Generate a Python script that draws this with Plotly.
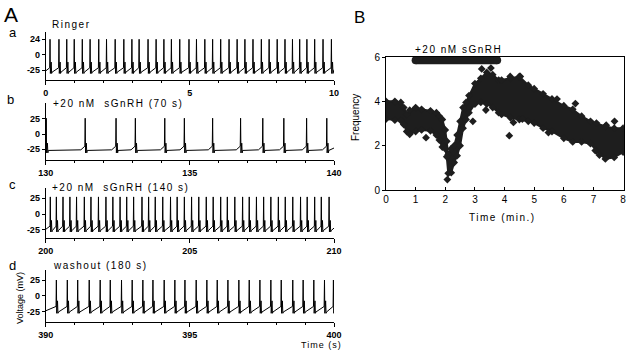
import plotly.graph_objects as go

W, H = 633, 355

# ---------------- data ----------------
# Panel A: spike times (s) read from the recordings
a_spikes = [0.15, 0.46, 0.73, 0.99, 1.27, 1.54, 1.84, 2.11, 2.41, 2.71, 2.99, 3.24,
            3.55, 3.83, 4.10, 4.36, 4.65, 4.97, 5.23, 5.52, 5.79, 6.07, 6.36, 6.64,
            6.91, 7.19, 7.48, 7.75, 8.03, 8.30, 8.56, 8.81, 9.06, 9.33, 9.62, 9.91]
b_spikes = [130.02, 131.37, 132.44, 133.11, 134.13, 134.81, 135.79, 136.76, 137.53,
            138.26, 139.05, 139.75]
c_spikes = [200.16, 200.37, 200.60, 200.84, 201.07, 201.34, 201.57, 201.83, 202.09,
            202.33, 202.58, 202.81, 203.05, 203.34, 203.57, 203.80, 204.06, 204.33,
            204.56, 204.81, 205.06, 205.31, 205.57, 205.81, 206.07, 206.30, 206.56,
            206.83, 207.06, 207.31, 207.56, 207.81, 208.07, 208.31, 208.57, 208.84,
            209.07, 209.33, 209.56, 209.83]
d_spikes = [390.37, 390.75, 391.11, 391.51, 391.89, 392.24, 392.63, 393.00, 393.37,
            393.72, 394.11, 394.48, 394.83, 395.22, 395.59, 395.95, 396.32, 396.70,
            397.06, 397.43, 397.81, 398.17, 398.57, 398.93, 399.30, 399.67, 399.98]

# membrane levels (mV): peak, secondary, trough, rest, pre-spike
a_levels = [24, -12, -30, -28, -21]
b_levels = [26, -15, -31, -27, -20]
c_levels = [27, -10, -28, -26, -19]
d_levels = [25.5, -8, -28, -26, -17]

a_titles = ["Ringer", "+20 nM  sGnRH (70 s)", "+20 nM  sGnRH (140 s)", "washout (180 s)"]
a_xticks = [[0, 5, 10], [130, 135, 140], [200, 205, 210], [390, 395, 400]]
a_ylabels = [["-25", "0", "24"], ["-25", "0", "25"], ["-25", "0", "25"], ["-25", "0", "25"]]
a_yvals = [[-25, 0, 24], [-25, 0, 25], [-25, 0, 25], [-25, 0, 25]]

# Panel B: spike frequency vs time (min): band of the dense point cloud
t_b = [0, 0.3, 0.5, 0.6, 0.7, 0.8, 1.0, 1.2, 1.5, 1.7, 1.8, 1.9, 2.0, 2.05, 2.1, 2.2,
       2.3, 2.4, 2.5, 2.6, 2.7, 2.8, 3.0, 3.2, 3.4, 3.6, 3.8, 3.9, 4.2, 4.5, 4.8, 5.0,
       5.3, 5.6, 6.0, 6.3, 6.6, 6.9, 7.1, 7.4, 7.7, 8.0]
f_upper = [4.0, 4.0, 3.95, 3.72, 3.41, 3.6, 3.72, 3.64, 3.57, 3.49, 3.33, 3.18, 2.71,
           2.2, 1.6, 1.86, 2.0, 2.48, 3.1, 3.72, 3.95, 4.26, 4.8, 5.04, 5.3, 5.2, 4.96,
           4.96, 5.04, 5.12, 4.73, 4.57, 4.34, 4.11, 3.8, 3.64, 3.33, 3.1, 3.02, 2.87,
           2.79, 2.79]
f_lower = [3.2, 3.15, 3.13, 2.95, 2.64, 2.51, 2.64, 2.71, 2.67, 2.48, 2.25, 1.94, 1.86,
           1.5, 0.75, 0.78, 1.24, 1.55, 2.0, 2.79, 3.18, 3.49, 3.88, 3.95, 3.88, 3.72,
           3.49, 3.41, 3.26, 3.18, 3.1, 3.02, 2.79, 2.64, 2.33, 2.17, 2.17, 2.09, 1.78,
           1.4, 1.47, 1.71]
t_out = [1.35, 2.07, 2.93, 3.23, 3.37, 3.54, 4.16, 4.19, 4.3, 4.53, 4.6, 5.48, 5.77,
         6.39, 7.06, 7.2, 7.43, 7.71]
f_out = [2.36, 0.47, 3.1, 5.46, 3.61, 5.5, 2.45, 5.12, 3.05, 5.12, 3.2, 2.59, 4.1,
         3.9, 1.78, 1.58, 2.92, 3.1]
drug_bar_t = [1.0, 3.75]
drug_bar_f = [5.85, 5.85]

# ---------------- helpers ----------------


def px(x):
    return x / W


def py(y):
    return 1 - y / H


def spike_trace(times, x0, x1, levels, ramp=None):
    peak, second, trough, rest, pre = levels
    xs, ys = [x0], [rest + 2]
    for i, t in enumerate(times):
        xs += [t - 0.012, t, t + 0.012, t + 0.04, t + 0.055, t + 0.07]
        ys += [pre, peak, trough, second, trough, rest]
        nxt = times[i + 1] if i + 1 < len(times) else None
        if nxt is not None and ramp is not None:
            xs.append(nxt - ramp)
            ys.append(rest + 1)
    xs.append(x1)
    ys.append(rest + 4)
    return xs, ys


FONT = "Liberation Sans"
fig = go.Figure()

# A panels geometry (pixels)
a_geo = [  # (top, bottom, yrange)
    (32, 80, [-40.3, 35.5]),
    (103, 160, [-42.7, 51]),
    (188, 238, [-37.6, 41]),
    (270, 322, [-42, 41.6]),
]
spikes_all = [a_spikes, b_spikes, c_spikes, d_spikes]
levels_all = [a_levels, b_levels, c_levels, d_levels]
ramps = [None, 0.15, None, None]

for i in range(4):
    k = "" if i == 0 else str(i + 1)
    top, bot, yr = a_geo[i]
    x0, x1 = a_xticks[i][0], a_xticks[i][-1]
    xs, ys = spike_trace(spikes_all[i], x0, x1, levels_all[i], ramps[i])
    fig.add_trace(go.Scatter(x=xs, y=ys, mode="lines", line=dict(color="black", width=1),
                             xaxis="x" + k, yaxis="y" + k, hoverinfo="skip"))
    fig.layout["xaxis" + k] = dict(
        domain=[px(45.7), px(334)], anchor="y" + k, range=[x0, x1], automargin=False,
        showline=True, linecolor="black", linewidth=1, showgrid=False, zeroline=False,
        tickmode="array", tickvals=a_xticks[i], ticks="outside", ticklen=4,
        tickcolor="black", tickfont=dict(family=FONT, size=9, color="black", weight="bold"),
        minor=dict(dtick=1, tick0=0, ticks="outside", ticklen=2, tickcolor="black"),
    )
    fig.layout["yaxis" + k] = dict(
        domain=[py(bot), py(top)], anchor="x" + k, range=yr, automargin=False,
        showline=True, linecolor="black", linewidth=1, showgrid=False, zeroline=False,
        tickmode="array", tickvals=a_yvals[i], ticktext=a_ylabels[i], ticks="outside",
        ticklen=3, tickcolor="black",
        tickfont=dict(family=FONT, size=9, color="black", weight="bold"),
    )

# Panel B
band_x = t_b + t_b[::-1]
band_y = f_upper + f_lower[::-1]
dark = "#1e1e1e"
fig.add_trace(go.Scatter(x=band_x, y=band_y, mode="lines", fill="toself", fillcolor=dark,
                         line=dict(color=dark, width=2), xaxis="x5", yaxis="y5",
                         hoverinfo="skip"))
fig.add_trace(go.Scatter(x=t_b + t_b + t_out, y=f_upper + f_lower + f_out, mode="markers",
                         marker=dict(symbol="diamond", size=6, color=dark),
                         xaxis="x5", yaxis="y5", hoverinfo="skip"))
fig.add_trace(go.Scatter(x=drug_bar_t, y=drug_bar_f, mode="lines+markers",
                         line=dict(color=dark, width=8),
                         marker=dict(symbol="circle", size=8, color=dark),
                         xaxis="x5", yaxis="y5", hoverinfo="skip", cliponaxis=False))
fig.layout["xaxis5"] = dict(
    domain=[px(386), px(624)], anchor="y5", range=[0, 8.03], automargin=False,
    showline=True, mirror=True, linecolor="black", linewidth=1, showgrid=False,
    zeroline=False, tickmode="array", tickvals=list(range(9)), ticks="inside", ticklen=3,
    tickcolor="black", tickfont=dict(family=FONT, size=10, color="black"),
)
fig.layout["yaxis5"] = dict(
    domain=[py(190), py(57)], anchor="x5", range=[0, 6], automargin=False,
    showline=True, mirror=True, linecolor="black", linewidth=1, showgrid=False,
    zeroline=False, tickmode="array", tickvals=[0, 2, 4, 6], ticks="outside", ticklen=3,
    tickcolor="black", tickfont=dict(family=FONT, size=10, color="black"),
)


def ann(text, x, y, size, xanchor="center", angle=0):
    return dict(text=text, x=px(x), y=py(y), xref="paper", yref="paper", showarrow=False,
                xanchor=xanchor, yanchor="middle", textangle=angle,
                font=dict(family=FONT, size=size, color="black"))


def spaced(t, s=1.5):
    return '<span style="letter-spacing:%spx">%s</span>' % (s, t)


anns = [
    ann("A", 11, 15, 21),
    ann("a", 13, 33, 13),
    ann("b", 10, 99, 13),
    ann("c", 12, 184, 13),
    ann("d", 12, 265, 13),
    ann(spaced(a_titles[0]), 50, 24, 10, "left"),
    ann(spaced(a_titles[1]), 51, 103, 10, "left"),
    ann(spaced(a_titles[2]), 50, 187, 10, "left"),
    ann(spaced(a_titles[3]), 51, 265, 10, "left"),
    ann("Voltage (mV)", 20, 298, 9, angle=-90),
    ann(spaced("Time (s)", 1), 321, 345, 9),
    ann("B", 359, 17, 17),
    ann(spaced("+20 nM sGnRH"), 458, 49, 10),
    ann("Frequency", 355, 118, 10, angle=-90),
    ann(spaced("Time (min.)"), 503, 218, 10),
]

fig.update_layout(
    template="none",
    width=W, height=H, margin=dict(l=0, r=0, t=0, b=0, autoexpand=False),
    paper_bgcolor="white", plot_bgcolor="white", showlegend=False,
    annotations=anns, hovermode=False,
)

fig.write_html("out.html",
               config={"displayModeBar": False, "staticPlot": True},
               post_script="document.body.style.margin='0px';"
                           "document.body.style.overflow='hidden';")
